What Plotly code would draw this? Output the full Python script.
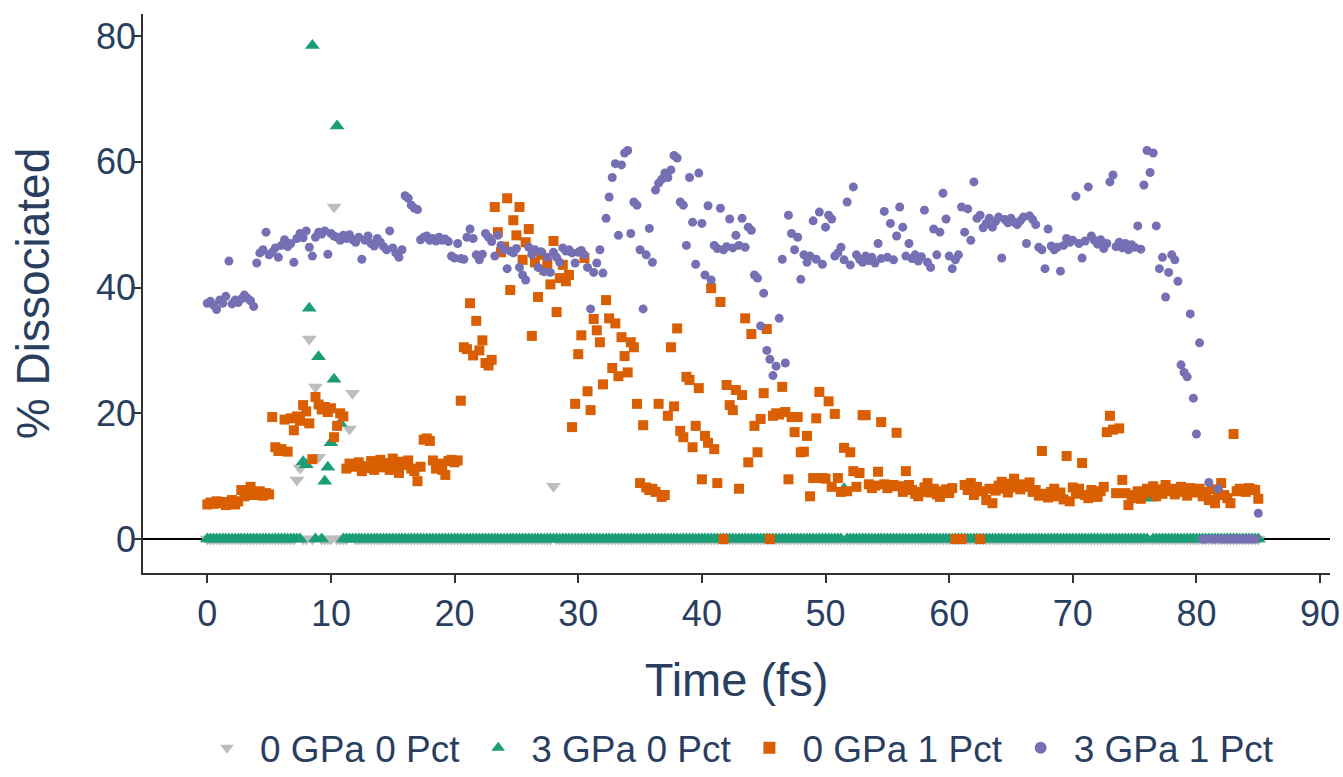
import plotly.graph_objects as go

TIME_STEP = 0.25
N_POINTS = 341
time_fs = [round(i * TIME_STEP, 2) for i in range(N_POINTS)]

series_names = ["0 GPa 0 Pct", "3 GPa 0 Pct", "0 GPa 1 Pct", "3 GPa 1 Pct"]

# 0 GPa 0 Pct  (8 values per row = 2 fs per row)
gpa0_pct0 = [
    0, 0, 0, 0, 0, 0, 0, 0,
    0, 0, 0, 0, 0, 0, 0, 0,
    0, 0, 0, 0, 0, 0, 0, 0,
    0, 0, 0, 0, 0, 9.4, 11.3, 0,
    0, 31.8, 0, 24.2, 13.0, 0, 0, 0,
    0, 52.8, 0, 0, 0, 0, 17.5, 23.2,
    0, 0, 0, 0, 0, 0, 0, 0,
    0, 0, 0, 0, 0, 0, 0, 0,
    0, 0, 0, 0, 0, 0, 0, 0,
    0, 0, 0, 0, 0, 0, 0, 0,
    0, 0, 0, 0, 0, 0, 0, 0,
    0, 0, 0, 0, 0, 0, 0, 0,
    0, 0, 0, 0, 0, 0, 0, 0,
    0, 0, 0, 0, 0, 0, 0, 0,
    8.4, 0, 0, 0, 0, 0, 0, 0,
    0, 0, 0, 0, 0, 0, 0, 0,
    0, 0, 0, 0, 0, 0, 0, 0,
    0, 0, 0, 0, 0, 0, 0, 0,
    0, 0, 0, 0, 0, 0, 0, 0,
    0, 0, 0, 0, 0, 0, 0, 0,
    0, 0, 0, 0, 0, 0, 0, 0,
    0, 0, 0, 0, 0, 0, 0, 0,
    0, 0, 0, 0, 0, 0, 0, 0,
    0, 0, 0, 0, 0, 0, 0, 0,
    0, 0, 0, 0, 0, 0, 0, 0,
    0, 0, 0, 0, 0, 0, 0, 0,
    0, 0, 0, 0, 0, 0, 0, 0,
    0, 0, 0, 0, 0, 0, 0, 0,
    0, 0, 0, 0, 0, 0, 0, 0,
    0, 0, 0, 0, 0, 0, 0, 0,
    0, 0, 0, 0, 0, 0, 0, 0,
    0, 0, 0, 0, 0, 0, 0, 0,
    0, 0, 0, 0, 0, 0, 0, 0,
    0, 0, 0, 0, 0, 0, 0, 0,
    0, 0, 0, 0, 0, 0, 0, 0,
    0, 0, 0, 0, 0, 0, 0, 0,
    0, 0, 0, 0, 0, 0, 0, 0,
    0, 0, 0, 0, 0, 0, 0, 0,
    0, 0, 0, 0, 0, 0, 0, 0,
    0, 0, 0, 0, 0, 0, 0, 0,
    0, 0, 0, 0, 0, 0, 0, 0,
    0, 0, 0, 0, 0, 0, 0, 0,
    0, 0, 0, 0, 0,
]

# 3 GPa 0 Pct
gpa3_pct0 = [
    0, 0, 0, 0, 0, 0, 0, 0,
    0, 0, 0, 0, 0, 0, 0, 0,
    0, 0, 0, 0, 0, 0, 0, 0,
    0, 0, 0, 0, 0, 0, 0, 12.3,
    11.8, 36.7, 78.5, 0, 29.0, 0, 9.2, 11.4,
    15.3, 25.4, 65.7, 18.4, 0, 0, 0, 0,
    0, 0, 0, 0, 0, 0, 0, 0,
    0, 0, 0, 0, 0, 0, 0, 0,
    0, 0, 0, 0, 0, 0, 0, 0,
    0, 0, 0, 0, 0, 0, 0, 0,
    0, 0, 0, 0, 0, 0, 0, 0,
    0, 0, 0, 0, 0, 0, 0, 0,
    0, 0, 0, 0, 0, 0, 0, 0,
    0, 0, 0, 0, 0, 0, 0, 0,
    0, 0, 0, 0, 0, 0, 0, 0,
    0, 0, 0, 0, 0, 0, 0, 0,
    0, 0, 0, 0, 0, 0, 0, 0,
    0, 0, 0, 0, 0, 0, 0, 0,
    0, 0, 0, 0, 0, 0, 0, 0,
    0, 0, 0, 0, 0, 0, 0, 0,
    0, 0, 0, 0, 0, 0, 0, 0,
    0, 0, 0, 0, 0, 0, 0, 0,
    0, 0, 0, 0, 0, 0, 0, 0,
    0, 0, 0, 0, 0, 0, 0, 0,
    0, 0, 0, 0, 0, 0, 0, 0,
    0, 0, 0, 0, 0, 0, 8.0, 0,
    0, 0, 0, 0, 0, 0, 0, 0,
    0, 0, 0, 0, 0, 0, 0, 0,
    0, 0, 0, 0, 0, 0, 0, 0,
    0, 0, 0, 0, 0, 0, 0, 0,
    0, 0, 0, 0, 0, 0, 0, 0,
    0, 0, 0, 0, 0, 0, 0, 0,
    0, 0, 0, 0, 0, 0, 0, 0,
    0, 0, 0, 0, 0, 0, 0, 0,
    0, 0, 0, 0, 0, 0, 0, 0,
    0, 0, 0, 0, 0, 0, 0, 0,
    0, 0, 0, 0, 0, 0, 0, 0,
    0, 0, 0, 0, 0, 0, 0, 0,
    0, 6.5, 0, 0, 0, 0, 0, 0,
    0, 0, 0, 0, 0, 0, 0, 0,
    0, 0, 0, 0, 0, 0, 0, 0,
    0, 0, 0, 0, 0, 0, 0, 0,
    0, 0, 0, 0, 0,
]

# 0 GPa 1 Pct
gpa0_pct1 = [
    5.5, 5.8, 5.6, 6.0, 5.7, 5.9, 5.4, 5.8,
    6.2, 5.5, 6.0, 7.8, 6.8, 7.5, 8.3, 7.0,
    7.2, 7.6, 6.9, 7.3, 7.1, 19.4, 14.6, 14.0,
    14.3, 19.0, 13.9, 19.2, 17.3, 19.5, 18.8, 21.3,
    20.3, 18.4, 12.7, 22.6, 21.4, 20.6, 21.0, 20.2,
    20.8, 16.2, 18.0, 20.0, 19.5, 11.2, 12.0, 11.5,
    11.9, 12.2, 10.8, 11.6, 11.3, 12.4, 11.0, 12.0,
    12.6, 11.4, 12.1, 11.0, 12.8, 11.5, 10.5, 12.3,
    11.8, 12.5, 11.2, 10.8, 9.2, 11.5, 15.8, 16.0,
    15.6, 12.5, 11.2, 12.0, 11.0, 10.2, 12.4, 12.6,
    12.2, 12.5, 22.0, 30.5, 30.2, 37.5, 29.2, 34.7,
    30.0, 31.6, 28.0, 27.6, 28.5, 52.8, 48.8, 45.6,
    46.5, 54.2, 39.6, 50.7, 48.3, 52.8, 44.4, 47.2,
    49.3, 32.3, 44.0, 38.5, 45.2, 42.8, 43.9, 40.5,
    47.4, 36.1, 41.5, 43.6, 41.0, 42.0, 17.8, 21.5,
    29.4, 32.4, 44.7, 23.5, 20.5, 35.0, 33.2, 31.3,
    24.6, 38.0, 35.1, 27.2, 34.3, 25.9, 32.1, 29.1,
    26.5, 31.3, 30.5, 21.5, 8.9, 18.1, 8.2, 7.8,
    8.0, 7.5, 21.5, 6.7, 7.0, 19.6, 30.5, 21.1,
    33.5, 17.2, 16.2, 25.8, 25.3, 14.6, 18.0, 24.0,
    9.5, 16.4, 15.3, 39.9, 14.3, 8.9, 37.7, 0,
    24.5, 21.3, 20.5, 23.7, 8.0, 22.9, 35.1, 12.2,
    32.6, 18.0, 13.8, 19.1, 23.2, 33.4, 0, 19.6,
    20.0, 19.8, 24.2, 20.2, 9.5, 19.4, 17.0, 19.4,
    13.8, 13.9, 16.4, 6.8, 9.7, 19.2, 23.4, 9.7,
    9.6, 21.9, 8.3, 19.9, 9.7, 7.5, 14.5, 7.6,
    13.8, 10.8, 8.3, 10.5, 19.7, 19.7, 8.7, 8.1,
    8.5, 10.7, 18.6, 8.7, 8.1, 8.4, 8.6, 16.9,
    8.4, 7.5, 10.8, 8.6, 7.8, 7.2, 6.8, 7.5,
    8.2, 8.9, 7.4, 8.0, 7.1, 6.7, 7.6, 7.9,
    7.3, 8.1, 0, 0, 0, 8.6, 7.8, 8.9,
    7.0, 8.3, 0, 7.6, 6.2, 8.0, 5.7, 7.7,
    8.5, 9.1, 8.0, 7.4, 8.8, 9.6, 8.2, 7.9,
    8.7, 8.3, 9.0, 7.5, 7.8, 6.9, 14.0, 7.2,
    6.6, 7.5, 8.0, 6.8, 7.4, 6.3, 13.2, 6.0,
    8.2, 7.2, 8.0, 12.1, 7.0, 6.5, 7.8, 7.1,
    6.7, 7.6, 8.3, 17.0, 19.6, 17.4, 7.3, 17.6,
    9.4, 7.3, 5.4, 7.0, 6.5, 7.6, 6.4, 7.2,
    8.0, 7.5, 8.4, 6.8, 7.9, 7.2, 8.6, 7.6,
    8.0, 7.1, 7.8, 8.3, 7.5, 6.9, 8.1, 7.7,
    7.4, 8.0, 6.8, 7.5, 6.2, 7.9, 5.7, 7.2,
    8.9, 7.0, 6.5, 5.7, 16.7, 7.6, 8.0, 7.8,
    7.5, 8.1, 7.9, 7.8, 6.4,
]

# 3 GPa 1 Pct
gpa3_pct1 = [
    37.5, 37.8, 37.2, 36.5, 38.0, 37.5, 38.6, 44.2,
    37.4, 38.0, 37.6, 38.2, 38.8, 38.3, 37.9, 37.0,
    43.9, 45.5, 46.0, 48.8, 45.2, 45.6, 46.3, 44.8,
    46.7, 47.6, 46.5, 47.0, 44.0, 47.8, 48.6, 47.9,
    49.0, 46.4, 45.0, 48.0, 48.8, 48.5, 49.0, 45.3,
    48.6, 48.2, 48.0, 47.5, 48.3, 47.8, 48.4, 47.6,
    47.2, 48.0, 44.5, 47.5, 48.2, 47.0, 46.6, 47.8,
    47.2, 46.5, 46.0, 49.0, 46.3, 45.5, 44.8, 46.0,
    54.6, 54.2, 53.1, 52.6, 52.4, 47.6, 48.0, 48.2,
    47.5, 47.8, 47.4, 48.0, 47.5, 47.7, 47.3, 45.0,
    44.7, 47.0, 44.6, 44.5, 48.0, 49.3, 47.8, 45.2,
    44.4, 45.3, 48.6, 48.0, 47.3, 45.0, 48.3, 46.7,
    46.0, 43.0, 45.8, 45.5, 46.2, 43.2, 42.0, 41.2,
    46.4, 45.3, 46.0, 43.2, 45.7, 42.5, 44.8, 42.4,
    45.6, 44.8, 44.0, 46.3, 45.8, 46.0, 45.5, 43.9,
    45.6, 45.9, 45.2, 43.2, 36.6, 42.4, 43.9, 46.0,
    42.3, 51.0, 54.4, 57.5, 59.7, 48.3, 59.5, 61.4,
    61.8, 48.6, 53.6, 53.1, 46.0, 36.6, 45.2, 49.4,
    44.0, 55.5, 56.6, 57.2, 58.2, 57.5, 58.7, 61.0,
    60.6, 53.6, 53.1, 46.7, 57.5, 50.4, 43.7, 58.2,
    50.2, 42.0, 53.0, 41.2, 46.7, 46.2, 52.6, 46.0,
    46.5, 50.9, 46.3, 48.3, 46.7, 51.0, 46.4, 49.6,
    49.1, 42.0, 41.5, 33.9, 39.1, 30.0, 28.6, 26.0,
    27.5, 35.1, 44.5, 28.0, 51.5, 48.6, 46.0, 48.0,
    41.3, 45.2, 44.0, 45.0, 50.6, 44.5, 52.0, 43.7,
    49.6, 51.5, 50.9, 45.0, 45.5, 46.4, 44.4, 53.6,
    43.6, 56.0, 45.2, 44.5, 44.0, 45.0, 44.3, 44.8,
    43.9, 47.0, 44.6, 52.1, 44.8, 50.2, 44.4, 48.2,
    52.8, 49.6, 45.0, 47.0, 44.6, 45.2, 44.2, 44.9,
    52.3, 44.0, 43.2, 49.3, 45.2, 48.8, 55.0, 50.9,
    45.0, 43.0, 44.4, 45.2, 52.8, 48.8, 52.5, 47.5,
    56.8, 51.0, 51.5, 49.5, 50.2, 51.0, 49.6, 50.5,
    51.2, 44.7, 50.8, 50.3, 51.0, 50.4, 50.0, 50.6,
    51.2, 47.0, 51.4, 50.8, 50.0, 46.4, 46.0, 43.0,
    49.3, 46.6, 46.0, 46.4, 42.6, 46.7, 47.8, 47.2,
    47.5, 54.5, 47.0, 44.7, 47.4, 56.0, 48.2, 47.5,
    46.9, 47.6, 46.2, 47.0, 56.8, 57.9, 46.5, 47.2,
    46.3, 47.0, 46.0, 46.8, 46.4, 49.8, 46.1, 56.3,
    61.8, 58.3, 61.4, 49.8, 43.0, 44.8, 38.5, 42.4,
    45.2, 44.4, 41.0, 27.7, 26.5, 25.8, 35.8, 22.4,
    16.7, 31.2, 0, 0, 9.0, 0, 0, 8.0,
    0, 0, 0, 0, 0, 0, 0, 0,
    0, 0, 0, 0, 4.1,
]

for s in (gpa0_pct0, gpa3_pct0, gpa0_pct1, gpa3_pct1):
    assert len(s) == N_POINTS, len(s)

colors = ["#BDBDBD", "#1B9E77", "#D95F02", "#7570B3"]
symbols = ["triangle-down", "triangle-up", "square", "circle"]
sizes = [13, 13, 10, 9]
values = [gpa0_pct0, gpa3_pct0, gpa0_pct1, gpa3_pct1]

fig = go.Figure()
for name, vals, col, sym, sz in zip(series_names, values, colors, symbols, sizes):
    fig.add_trace(go.Scatter(
        x=time_fs, y=vals, mode="markers", name=name,
        marker=dict(color=col, symbol=sym, size=sz, line=dict(width=0)),
    ))

axis_color = "#333333"
fig.update_layout(
    width=1343, height=777,
    margin=dict(l=143, r=13, t=14, b=204, autoexpand=False),
    plot_bgcolor="white", paper_bgcolor="white",
    font=dict(family="Arial, 'Liberation Sans', sans-serif", color="#2a3f5f", size=36),
    legend=dict(orientation="h", x=0.5, xanchor="center", y=-0.258, yanchor="top",
                font=dict(size=37), itemsizing="constant", itemwidth=56),
    xaxis=dict(
        range=[-5.2, 90.8], tick0=0, dtick=10, showgrid=False, zeroline=False,
        showline=True, linecolor=axis_color, linewidth=1.5,
        ticks="outside", ticklen=8, tickwidth=1.5, tickcolor=axis_color,
        title=dict(text="Time (fs)", font=dict(size=47), standoff=30),
    ),
    yaxis=dict(
        range=[-5.4, 83.5], tick0=0, dtick=20, showgrid=False,
        zeroline=True, zerolinecolor="black", zerolinewidth=2,
        showline=True, linecolor=axis_color, linewidth=1.5,
        ticks="outside", ticklen=8, tickwidth=1.5, tickcolor=axis_color,
        ticklabelstandoff=-10,
        title=dict(text="% Dissociated", font=dict(size=46), standoff=32),
    ),
)

fig.write_html("out.html")
